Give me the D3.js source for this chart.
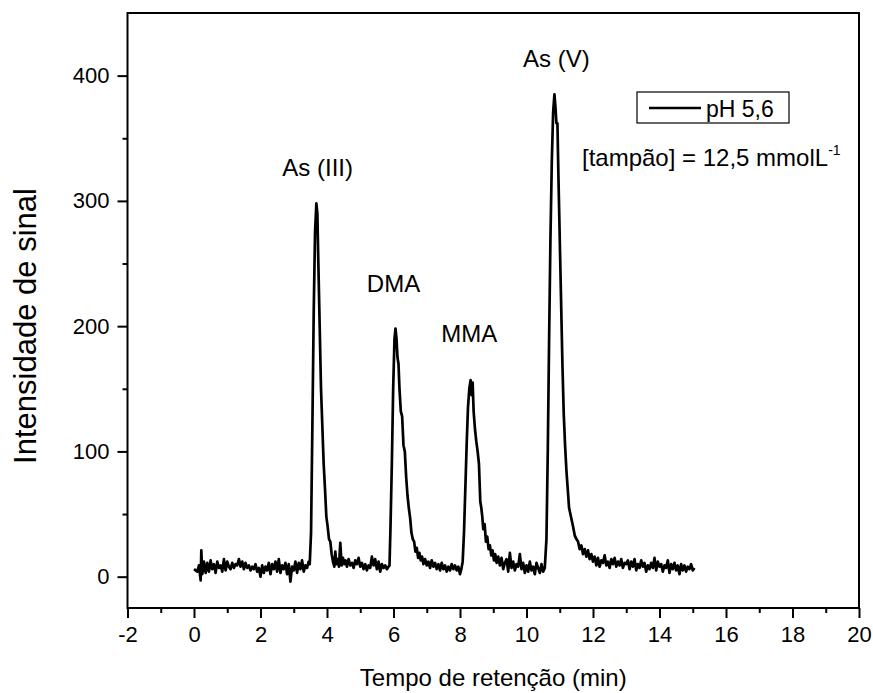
<!DOCTYPE html>
<html>
<head>
<meta charset="utf-8">
<script src="https://cdn.jsdelivr.net/npm/d3@7"></script>
<style>
  body { margin: 0; background: #fff; }
  text { font-family: Arial, "Liberation Sans", sans-serif; fill: #000; }
</style>
</head>
<body>
<svg id="chart" width="873" height="693"></svg>
<script>
// cromatograma: [tempo (min), intensidade]
var pontos = [
  [0.00, 6], [0.05, 5], [0.10, 4], [0.15, 9], [0.20, -3], [0.22, 21], [0.25, 2], [0.30, 12], [0.35, 3], [0.40, 11],
  [0.45, 4], [0.50, 13], [0.55, 6], [0.60, 10], [0.65, 3], [0.70, 12], [0.75, 7], [0.80, 9], [0.85, 4], [0.90, 14],
  [0.95, 5], [1.00, 12], [1.05, 8], [1.10, 6], [1.15, 11], [1.20, 7], [1.25, 10], [1.30, 9], [1.35, 14], [1.40, 8],
  [1.45, 12], [1.50, 6], [1.55, 11], [1.60, 7], [1.65, 9], [1.70, 5], [1.75, 8], [1.80, 6], [1.85, 10], [1.90, 4],
  [1.95, 7], [2.00, 0], [2.05, 9], [2.10, 3], [2.15, 8], [2.20, 5], [2.25, 11], [2.30, 2], [2.35, 10], [2.40, 6],
  [2.45, 12], [2.50, 4], [2.55, 14], [2.60, 3], [2.65, 9], [2.70, 6], [2.75, 11], [2.80, 2], [2.85, 10], [2.90, -4],
  [2.95, 8], [3.00, 5], [3.05, 12], [3.10, 3], [3.15, 11], [3.20, 6], [3.25, 13], [3.30, 4], [3.35, 9], [3.40, 7],
  [3.45, 12], [3.48, 10],
  // As (III)
  [3.52, 35], [3.56, 120], [3.60, 210], [3.64, 275], [3.68, 298], [3.71, 290], [3.74, 250], [3.78, 200], [3.82, 150],
  [3.86, 120], [3.90, 90], [3.94, 70], [3.98, 48], [4.02, 40], [4.06, 30], [4.10, 28], [4.14, 18], [4.18, 12],
  [4.22, 8], [4.25, 20], [4.28, 10], [4.32, 14], [4.36, 8], [4.40, 27], [4.44, 9], [4.48, 15], [4.52, 10], [4.56, 13],
  [4.60, 8], [4.65, 14], [4.70, 9], [4.75, 11], [4.80, 7], [4.85, 13], [4.90, 10], [4.95, 15], [5.00, 8], [5.05, 11],
  [5.10, 6], [5.15, 10], [5.20, 5], [5.25, 9], [5.30, 7], [5.35, 16], [5.40, 9], [5.45, 14], [5.50, 6], [5.55, 12],
  [5.60, 4], [5.65, 10], [5.70, 7], [5.75, 9], [5.80, 6], [5.85, 8], [5.88, 9],
  // DMA
  [5.91, 40], [5.95, 90], [5.99, 150], [6.03, 190], [6.06, 198], [6.09, 190], [6.12, 175], [6.15, 170], [6.18, 150],
  [6.22, 132], [6.26, 128], [6.30, 105], [6.34, 100], [6.38, 80], [6.42, 65], [6.46, 55], [6.50, 47], [6.54, 35],
  [6.58, 30], [6.62, 28], [6.66, 20], [6.70, 23], [6.74, 15], [6.78, 19], [6.82, 13], [6.86, 16], [6.90, 10],
  [6.95, 14], [7.00, 9], [7.05, 12], [7.10, 7], [7.15, 13], [7.20, 8], [7.25, 11], [7.30, 6], [7.35, 10], [7.40, 5],
  [7.45, 11], [7.50, 6], [7.55, 9], [7.60, 4], [7.65, 8], [7.70, 5], [7.75, 10], [7.80, 6], [7.85, 9], [7.90, 5],
  [7.95, 8], [8.00, 2], [8.04, 6],
  // MMA
  [8.08, 12], [8.12, 35], [8.16, 70], [8.20, 105], [8.24, 135], [8.28, 150], [8.32, 157], [8.35, 145], [8.38, 155],
  [8.41, 132], [8.45, 118], [8.49, 108], [8.53, 100], [8.57, 90], [8.61, 60], [8.64, 55], [8.67, 48], [8.70, 38],
  [8.74, 42], [8.78, 28], [8.82, 32], [8.86, 22], [8.90, 25], [8.94, 17], [8.98, 21], [9.02, 13], [9.06, 18],
  [9.10, 11], [9.15, 16], [9.20, 9], [9.25, 15], [9.30, 6], [9.35, 11], [9.40, 14], [9.45, 4], [9.50, 19], [9.55, 7],
  [9.60, 12], [9.65, 5], [9.70, 10], [9.75, 8], [9.80, 18], [9.85, 6], [9.90, 11], [9.95, 3], [10.00, 9], [10.05, 4],
  [10.10, 12], [10.15, 5], [10.20, 8], [10.25, 2], [10.30, 11], [10.35, 7], [10.40, 3], [10.45, 10], [10.50, 4],
  [10.55, 7],
  // As (V)
  [10.60, 30], [10.64, 100], [10.68, 190], [10.72, 270], [10.76, 330], [10.80, 370], [10.84, 385], [10.87, 375],
  [10.90, 362], [10.93, 362], [10.96, 320], [11.00, 270], [11.04, 220], [11.08, 170], [11.12, 130], [11.16, 105],
  [11.20, 85], [11.24, 70], [11.28, 55], [11.32, 50], [11.36, 45], [11.40, 40], [11.45, 33], [11.50, 30], [11.55, 28],
  [11.60, 22], [11.65, 25], [11.70, 18], [11.75, 22], [11.80, 16], [11.85, 21], [11.90, 14], [11.95, 18], [12.00, 12],
  [12.05, 16], [12.10, 9], [12.15, 15], [12.20, 8], [12.25, 13], [12.30, 11], [12.35, 17], [12.40, 9], [12.45, 12],
  [12.50, 7], [12.55, 14], [12.60, 10], [12.65, 15], [12.70, 8], [12.75, 12], [12.80, 9], [12.85, 14], [12.90, 7],
  [12.95, 11], [13.00, 10], [13.05, 13], [13.10, 6], [13.15, 12], [13.20, 8], [13.25, 14], [13.30, 5], [13.35, 10],
  [13.40, 7], [13.45, 13], [13.50, 8], [13.55, 11], [13.60, 4], [13.65, 9], [13.70, 6], [13.75, 11], [13.80, 7],
  [13.85, 15], [13.90, 5], [13.95, 12], [14.00, 8], [14.05, 10], [14.10, 4], [14.15, 9], [14.20, 7], [14.25, 13],
  [14.30, 3], [14.35, 10], [14.40, 6], [14.45, 11], [14.50, 5], [14.55, 9], [14.60, 2], [14.65, 10], [14.70, 5],
  [14.75, 9], [14.80, 4], [14.85, 8], [14.90, 6], [14.95, 10], [15.00, 5], [15.05, 7]
];

var xTicks = [-2, 0, 2, 4, 6, 8, 10, 12, 14, 16, 18, 20];
var xMinor = [-1, 1, 3, 5, 7, 9, 11, 13, 15, 17, 19];
var yTicks = [0, 100, 200, 300, 400];
var yMinor = [50, 150, 250, 350];

// nomes dos picos e onde ficam os rotulos (em unidades dos eixos)
var picos = [
  { nome: "As (III)", t: 3.72, v: 320 },
  { nome: "DMA", t: 6.0, v: 227 },
  { nome: "MMA", t: 8.28, v: 187 },
  { nome: "As (V)", t: 10.9, v: 407 }
];

var legendaTexto = "pH 5,6";
var tampao = { texto: "[tampão] = 12,5 mmolL", sup: "-1" };

var mLeft = 127.5, mRight = 859, mTop = 13, mBottom = 608;

var svg = d3.select("#chart");

var x = d3.scaleLinear().domain([-2, 20]).range([mLeft, mRight]);
var y = d3.scaleLinear().domain([-25, 450]).range([mBottom, mTop]);

function fmt(d) { return String(d); }

// moldura
svg.append("rect")
    .attr("x", mLeft).attr("y", mTop)
    .attr("width", mRight - mLeft).attr("height", mBottom - mTop)
    .attr("fill", "none").attr("stroke", "#000").attr("stroke-width", 2);

// eixo x
var gx = svg.append("g").attr("transform", "translate(0," + mBottom + ")");
gx.call(d3.axisBottom(x).tickValues(xTicks).tickSize(10).tickPadding(8).tickFormat(fmt));
gx.append("g").call(d3.axisBottom(x).tickValues(xMinor).tickSize(5).tickFormat(""));

// eixo y
var gy = svg.append("g").attr("transform", "translate(" + mLeft + ",0)");
gy.call(d3.axisLeft(y).tickValues(yTicks).tickSize(10).tickPadding(8).tickFormat(fmt));
gy.append("g").call(d3.axisLeft(y).tickValues(yMinor).tickSize(5).tickFormat(""));

svg.selectAll(".domain").remove();
svg.selectAll(".tick line").attr("stroke", "#000").attr("stroke-width", 2);
svg.selectAll(".tick text").attr("font-family", null).attr("font-size", null).style("font-size", "22px");

// sinal
var line = d3.line()
    .x(function(d) { return x(d[0]); })
    .y(function(d) { return y(d[1]); });

svg.append("path")
    .datum(pontos)
    .attr("d", line)
    .attr("fill", "none")
    .attr("stroke", "#000")
    .attr("stroke-width", 2.7)
    .attr("stroke-linejoin", "round");

// rotulos dos picos
svg.selectAll(".pico")
    .data(picos)
    .enter()
    .append("text")
    .attr("class", "pico")
    .attr("x", function(d) { return x(d.t); })
    .attr("y", function(d) { return y(d.v); })
    .attr("text-anchor", "middle")
    .style("font-size", "24px")
    .text(function(d) { return d.nome; });

// legenda
var leg = svg.append("g").attr("transform", "translate(637,92)");
leg.append("rect").attr("width", 152).attr("height", 31)
    .attr("fill", "#fff").attr("stroke", "#000").attr("stroke-width", 1.2);
leg.append("line").attr("x1", 12).attr("x2", 64).attr("y1", 16).attr("y2", 16)
    .attr("stroke", "#000").attr("stroke-width", 2.7);
leg.append("text").attr("x", 69).attr("y", 25).style("font-size", "23px").text(legendaTexto);

var tt = svg.append("text").attr("x", 582).attr("y", 166).style("font-size", "24px");
tt.append("tspan").text(tampao.texto);
tt.append("tspan").attr("dy", -11).style("font-size", "14px").text(tampao.sup);

// titulos dos eixos
svg.append("text")
    .attr("x", (mLeft + mRight) / 2).attr("y", 686)
    .attr("text-anchor", "middle")
    .style("font-size", "24px")
    .text("Tempo de retenção (min)");

svg.append("text")
    .attr("transform", "translate(36,326) rotate(-90)")
    .attr("text-anchor", "middle")
    .style("font-size", "31px")
    .text("Intensidade de sinal");
</script>
</body>
</html>
